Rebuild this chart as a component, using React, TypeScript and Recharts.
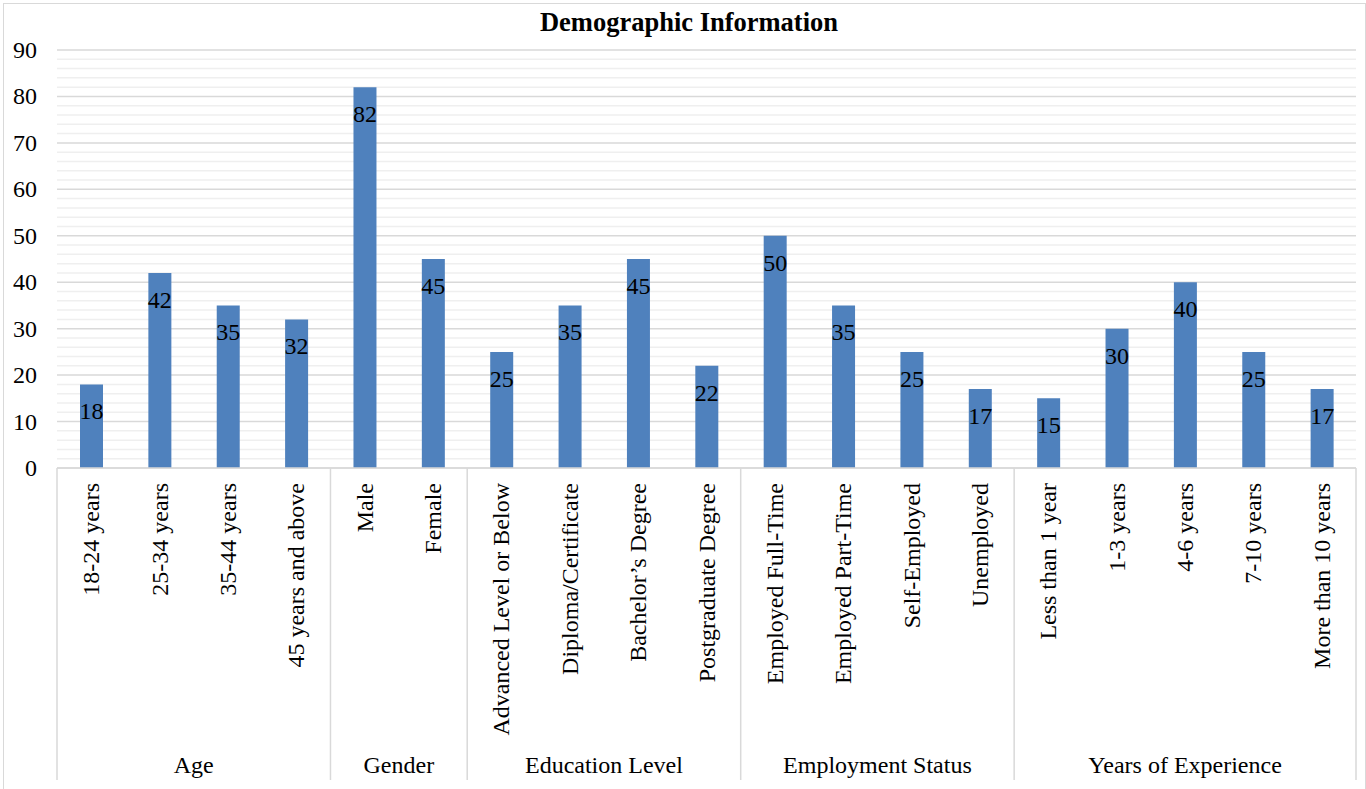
import { Bar, BarChart, CartesianGrid, LabelList, XAxis, YAxis } from "recharts";

const categories = [
  "18-24 years",
  "25-34 years",
  "35-44 years",
  "45 years and above",
  "Male",
  "Female",
  "Advanced Level or Below",
  "Diploma/Certificate",
  "Bachelor’s Degree",
  "Postgraduate Degree",
  "Employed Full-Time",
  "Employed Part-Time",
  "Self-Employed",
  "Unemployed",
  "Less than 1 year",
  "1-3 years",
  "4-6 years",
  "7-10 years",
  "More than 10 years",
];

const values = [18, 42, 35, 32, 82, 45, 25, 35, 45, 22, 50, 35, 25, 17, 15, 30, 40, 25, 17];

const groups = ["Age", "Gender", "Education Level", "Employment Status", "Years of Experience"];
const groupSizes = [4, 2, 4, 4, 5];

const yTicks = [0, 10, 20, 30, 40, 50, 60, 70, 80, 90];
const minorTicks = Array.from({ length: 46 }, (_, i) => i * 2).filter((v) => v % 10 !== 0);

const data = categories.map((label, i) => ({ label, value: values[i] }));

const FONT = '"Liberation Serif", "Times New Roman", serif';
const GRID = "#d9d9d9";

// first category index of each group
const groupStarts = groupSizes.map((_, g) => groupSizes.slice(0, g).reduce((a, b) => a + b, 0));

function CategoryTick(props: any) {
  const { x, y, payload } = props;
  const index: number = payload.index ?? categories.indexOf(payload.value);
  const half: number = payload.offset ?? 34;
  const g = groupStarts.indexOf(index);
  const isLast = index === categories.length - 1;

  return (
    <g>
      <text
        x={x}
        y={y + 15}
        transform={`rotate(-90, ${x}, ${y + 15})`}
        textAnchor="end"
        dominantBaseline="central"
        style={{ fontFamily: FONT }}
        fontSize={24}
        fill="#000"
      >
        {payload.value}
      </text>
      {g >= 0 && (
        <>
          <line x1={x - half} x2={x - half} y1={y} y2={y + 312} stroke={GRID} strokeWidth={1.5} />
          <text
            x={x - half + groupSizes[g] * half}
            y={y + 305}
            textAnchor="middle"
            style={{ fontFamily: FONT }}
            fontSize={24}
            fill="#000"
          >
            {groups[g]}
          </text>
        </>
      )}
      {isLast && <line x1={x + half} x2={x + half} y1={y} y2={y + 312} stroke={GRID} strokeWidth={1.5} />}
    </g>
  );
}

function ValueTick(props: any) {
  const { x, y, payload } = props;
  return (
    <text x={x} y={y} textAnchor="end" dominantBaseline="central" style={{ fontFamily: FONT }} fontSize={24} fill="#000">
      {payload.value}
    </text>
  );
}

function BarValue(props: any) {
  const { x, y, width, value } = props;
  return (
    <text x={x + width / 2} y={y + 35} textAnchor="middle" style={{ fontFamily: FONT }} fontSize={24} fill="#000">
      {value}
    </text>
  );
}

export default function App() {
  return (
    <div
      style={{
        position: "absolute",
        left: 0,
        top: 0,
        width: 1366,
        height: 789,
        overflow: "hidden",
        background: "#fff",
        fontFamily: FONT,
      }}
    >
      <div
        style={{
          position: "absolute",
          left: 3,
          top: 3,
          width: 1361,
          height: 820,
          border: `1px solid ${GRID}`,
        }}
      />
      <div
        style={{
          position: "absolute",
          left: 0,
          top: 9,
          width: 1378,
          textAlign: "center",
          fontFamily: FONT,
          fontSize: 26.5,
          lineHeight: "26px",
          fontWeight: "bold",
        }}
      >
        Demographic Information
      </div>
      <div style={{ position: "absolute", left: 0, top: 0 }}>
        <BarChart
          width={1366}
          height={789}
          data={data}
          margin={{ top: 50, right: 10, bottom: 0, left: 0 }}
          style={{ fontFamily: FONT }}
        >
          <CartesianGrid vertical={false} horizontalValues={minorTicks} stroke="#efefef" strokeWidth={1.5} />
          <CartesianGrid vertical={false} stroke={GRID} strokeWidth={1.5} />
          <XAxis
            dataKey="label"
            interval={0}
            height={321}
            tickLine={false}
            tickSize={0}
            tickMargin={0}
            axisLine={{ stroke: GRID, strokeWidth: 1.5 }}
            tick={<CategoryTick />}
          />
          <YAxis
            width={57}
            domain={[0, 90]}
            ticks={yTicks}
            interval={0}
            axisLine={false}
            tickLine={false}
            tickMargin={14}
            tick={<ValueTick />}
          />
          <Bar dataKey="value" fill="#4F81BD" barSize={23} isAnimationActive={false}>
            <LabelList dataKey="value" content={<BarValue />} />
          </Bar>
        </BarChart>
      </div>
    </div>
  );
}
